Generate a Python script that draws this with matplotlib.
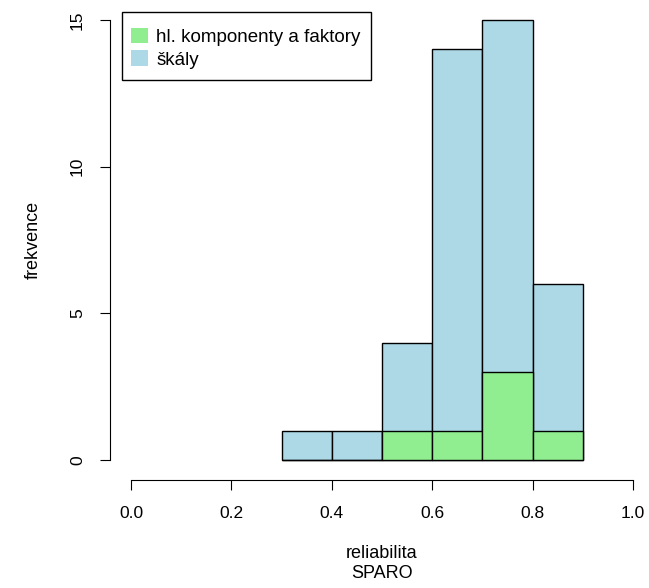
import numpy as np
import matplotlib
matplotlib.use("Agg")
import matplotlib.pyplot as plt
from matplotlib.patches import Patch, Rectangle

# histogram bins and counts
bin_edges = [0.3, 0.4, 0.5, 0.6, 0.7, 0.8, 0.9]
skaly_counts = [1, 1, 4, 14, 15, 6]
faktory_counts = [0, 0, 1, 1, 3, 1]

x_ticks = [0.0, 0.2, 0.4, 0.6, 0.8, 1.0]
y_ticks = [0, 5, 10, 15]

plt.rcParams['font.family'] = ['Liberation Sans', 'DejaVu Sans']

W, H = 649, 588
fig = plt.figure(figsize=(W / 100, H / 100), dpi=100)
ax = fig.add_axes([110 / W, (H - 480) / H, 530 / W, 475 / H])

left = np.array(bin_edges[:-1])
widths = np.diff(bin_edges)
ax.bar(left, skaly_counts, width=widths, align='edge',
       color='#ADD8E6', edgecolor='black', linewidth=1)
ax.bar(left, faktory_counts, width=widths, align='edge',
       color='#90EE90', edgecolor='black', linewidth=1)

# pixel-based limits: x 0 -> 131px, 1 -> 633px; y 0 -> 460px, 15 -> 20px
ax.set_xlim((110 - 131) / 502, (640 - 131) / 502)
ax.set_ylim((460 - 480) / (440 / 15), (460 - 5) / (440 / 15))

for s in ['top', 'right']:
    ax.spines[s].set_visible(False)
ax.spines['left'].set_bounds(0, 15)
ax.spines['bottom'].set_bounds(0, 1)
ax.set_xticks(x_ticks)
ax.set_xticklabels(['0.0', '0.2', '0.4', '0.6', '0.8', '1.0'])
ax.set_yticks(y_ticks)
ax.set_yticklabels([str(v) for v in y_ticks], rotation=90, va='center')
ax.tick_params(length=7, labelsize=12.5)
ax.tick_params(axis='x', pad=12)
ax.tick_params(axis='y', pad=11)

fig.text(33 / W, 1 - 240 / H, 'frekvence', rotation=90, ha='center',
         va='center', fontsize=13)
fig.text(382 / W, 1 - 553 / H, 'reliabilita', ha='center', va='center', fontsize=13)
fig.text(382 / W, 1 - 574 / H, 'SPARO', ha='center', va='center', fontsize=13)

# legend box drawn separately so the padding can differ per side
box = Rectangle((122 / W, 1 - 80 / H), (371 - 122) / W, 68 / H,
                transform=fig.transFigure, facecolor='white',
                edgecolor='black', linewidth=1, zorder=4)
fig.add_artist(box)

handles = [Patch(facecolor='#90EE90', edgecolor='none'),
           Patch(facecolor='#ADD8E6', edgecolor='none')]
leg = fig.legend(handles, ['hl. komponenty a faktory', 'škály'],
                 loc='upper left', bbox_to_anchor=(131 / W, 1 - 27.5 / H),
                 frameon=False, fontsize=13.5,
                 handlelength=0.9, handleheight=0.9, borderaxespad=0,
                 handletextpad=0.45, labelspacing=0.25, borderpad=0)
leg.set_zorder(5)

fig.savefig('out.png', dpi=100)
